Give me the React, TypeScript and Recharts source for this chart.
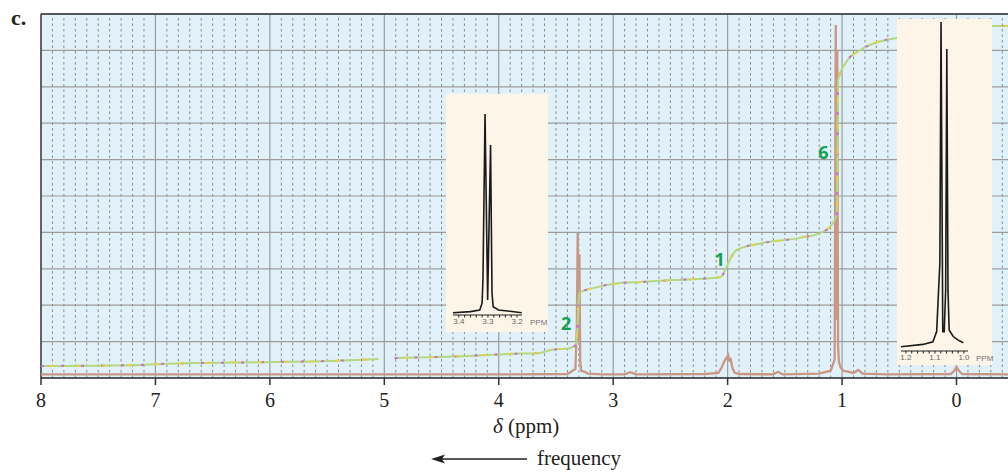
import React from 'react';
import { ComposedChart, LineChart, Line, XAxis, YAxis, CartesianGrid, ReferenceLine } from 'recharts';

// ---- main axis ----
const ppmTicks = [8, 7, 6, 5, 4, 3, 2, 1, 0];
const valueTicks = [0, 1, 2, 3, 4, 5, 6, 7, 8, 9, 10];

// ---- 1H spectrum (ppm, intensity) ----
const spectrumPpm = [8.0, 6.0, 4.0, 3.4, 3.33, 3.318, 3.31, 3.302, 3.295, 3.288, 3.28, 3.25, 3.22, 3.1, 2.9, 2.85, 2.8, 2.2, 2.08, 2.05, 2.03, 2.01, 1.995, 1.985, 1.975, 1.96, 1.94, 1.9, 1.6, 1.56, 1.52, 1.2, 1.1, 1.065, 1.055, 1.05, 1.042, 1.035, 1.028, 1.015, 0.99, 0.9, 0.86, 0.82, 0.6, 0.05, 0.02, 0.0, -0.02, -0.05, -0.45];
const spectrumVal = [0.1, 0.1, 0.1, 0.11, 0.25, 1.4, 3.98, 1.0, 3.4, 0.45, 0.2, 0.17, 0.12, 0.1, 0.1, 0.16, 0.1, 0.11, 0.14, 0.3, 0.45, 0.55, 0.63, 0.45, 0.55, 0.3, 0.15, 0.11, 0.1, 0.17, 0.1, 0.12, 0.2, 0.5, 9.7, 1.6, 9.0, 0.9, 0.45, 0.3, 0.2, 0.14, 0.22, 0.12, 0.1, 0.11, 0.2, 0.3, 0.2, 0.11, 0.1];

// ---- integral trace (ppm, value) ----
const integralPpm = [8.0, 7.13, 7.0, 5.99, 5.47, 5.3, 5.05, 5.0, 4.91, 4.51, 4.31, 3.93, 3.64, 3.55, 3.38, 3.33, 3.31, 3.3, 3.29, 3.175, 2.94, 2.76, 2.48, 2.065, 2.02, 1.99, 1.92, 1.74, 1.37, 1.19, 1.08, 1.045, 1.04, 1.035, 0.97, 0.84, 0.69, 0.52, 0.3, 0.05, -0.05, -0.32, -0.45];
const integralVal = [0.33, 0.36, 0.38, 0.44, 0.47, 0.49, 0.52, null, 0.55, 0.58, 0.6, 0.66, 0.69, 0.77, 0.82, 0.9, 1.5, 2.2, 2.35, 2.47, 2.61, 2.64, 2.69, 2.77, 2.97, 3.19, 3.52, 3.68, 3.85, 3.98, 4.26, 4.53, 6.5, 8.19, 8.65, 9.01, 9.23, 9.34, 9.42, 9.5, 9.65, 9.67, 9.67];

// ---- integration ratio labels ----
const ratioLabels = ['2', '1', '6'];
const ratioPpm = [3.41, 2.07, 1.164];
const ratioVal = [1.51, 3.27, 6.21];

// ---- inset 1 (3.3 ppm doublet) ----
const inset1Ticks = [3.4, 3.38, 3.36, 3.34, 3.32, 3.3, 3.28, 3.26, 3.24, 3.22, 3.2];
const inset1Labels = [3.4, 3.3, 3.2];
const inset1Ppm = [3.42, 3.36, 3.328, 3.32, 3.317, 3.31, 3.301, 3.291, 3.286, 3.282, 3.264, 3.184];
const inset1Val = [1.1, 1.6, 2.4, 5.7, 17.5, 95.3, 7.1, 80.6, 10.4, 3.9, 2.4, 1.1];

// ---- inset 2 (1.05 ppm doublet) ----
const inset2Ticks = [1.2, 1.18, 1.16, 1.14, 1.12, 1.1, 1.08, 1.06, 1.04, 1.02, 1.0];
const inset2Labels = [1.2, 1.1, 1.0];
const inset2Ppm = [1.217, 1.141, 1.107, 1.094, 1.089, 1.083, 1.079, 1.073, 1.068, 1.063, 1.059, 1.055, 1.051, 1.037, 1.02, 1.002];
const inset2Val = [1.3, 2.0, 2.8, 5.9, 15.5, 26.7, 100, 5.9, 5.9, 18.5, 91.8, 18.5, 6.4, 4.4, 3.3, 2.5];

const spectrumData = spectrumPpm.map((p, i) => ({ ppm: p, v: spectrumVal[i] }));
const integralData = integralPpm.map((p, i) => ({ ppm: p, v: integralVal[i] }));
const inset1Data = inset1Ppm.map((p, i) => ({ ppm: p, v: inset1Val[i] }));
const inset2Data = inset2Ppm.map((p, i) => ({ ppm: p, v: inset2Val[i] }));

const minorGrid: number[] = [];
for (let k = 0; k <= 84; k++) {
  const p = Math.round((8 - k * 0.1) * 10) / 10;
  if (Math.abs(p - Math.round(p)) > 0.01 && p > -0.45) minorGrid.push(p);
}

const SERIF = '"Liberation Serif", "Times New Roman", serif';
const SANS = '"Liberation Sans", Arial, sans-serif';

const RatioLabel = (props: any) => {
  const { viewBox, value } = props;
  return (
    <text x={viewBox.x} y={viewBox.y} textAnchor="middle" dominantBaseline="central"
      fontFamily='"Open Sans", sans-serif' fontWeight={700} fontSize={18} fill="#13a04e">{value}</text>
  );
};

function Inset({ left, top, width, height, data, ticks, labels, domain, plotLeft, plotRight, plotTop, plotBottom }: any) {
  return (
    <div style={{ position: 'absolute', left, top, width, height, background: '#fdf5e8' }}>
      <LineChart width={width} height={height} data={data}
        margin={{ top: plotTop, right: width - plotRight, left: plotLeft, bottom: height - plotBottom - 14 }}>
        <XAxis dataKey="ppm" type="number" domain={domain} reversed allowDataOverflow ticks={ticks} interval={0}
          height={14} stroke="#222" axisLine={{ stroke: '#222', strokeWidth: 1.2 }}
          tickLine={{ stroke: '#222' }} tickSize={2.5} tickMargin={1}
          tick={{ fontSize: 8, fill: '#666', fontFamily: SANS }}
          tickFormatter={(t: number) => (labels.some((l: number) => Math.abs(l - t) < 1e-6) ? t.toFixed(1) : '')} />
        <YAxis hide domain={[0, 100]} width={0} />
        <Line dataKey="v" type="linear" stroke="#1a1a1a" strokeWidth={1.6} dot={false} isAnimationActive={false} />
      </LineChart>
      <div style={{ position: 'absolute', left: plotRight + 8, top: plotBottom + 3, fontSize: 8, color: '#777', fontFamily: SANS }}>PPM</div>
    </div>
  );
}

export default function App() {
  return (
    <div style={{ position: 'absolute', left: 0, top: 0, width: 1008, height: 473, overflow: 'hidden', background: '#fff' }}>
      <ComposedChart width={1008} height={473} margin={{ top: 14, right: 0, left: 41, bottom: 55 }}>
        <CartesianGrid fill="#e0f1f9" stroke="#9c9c9c" strokeWidth={1.2} horizontalValues={valueTicks} verticalValues={ppmTicks} />
        {minorGrid.map((p) => (
          <ReferenceLine key={p} x={p} stroke="#8a8a8a" strokeWidth={1} strokeDasharray="2.5 3" />
        ))}
        <XAxis dataKey="ppm" type="number" domain={[-0.45, 8]} reversed allowDataOverflow ticks={ppmTicks} interval={0}
          height={40} axisLine={{ stroke: '#333', strokeWidth: 1.5 }} tickLine={{ stroke: '#333', strokeWidth: 1.5 }}
          tickSize={7} tickMargin={8} tick={{ fontSize: 20, fill: '#222', fontFamily: SERIF }} />
        <YAxis type="number" domain={[0, 10]} ticks={valueTicks} hide width={0} />
        <ReferenceLine y={10} stroke="#555" strokeWidth={2} />
        <ReferenceLine x={8} stroke="#444" strokeWidth={1.5} />
        <Line data={spectrumData} dataKey="v" type="linear" stroke="#c99784" strokeWidth={2.3} dot={false} isAnimationActive={false} />
        <Line data={integralData} dataKey="v" type="monotone" stroke="#b4d97c" strokeWidth={2} dot={false} isAnimationActive={false} />
        <Line data={integralData} dataKey="v" type="monotone" stroke="#c56fdc" strokeWidth={2} strokeDasharray="3 17" dot={false} isAnimationActive={false} />
        <Line data={integralData} dataKey="v" type="monotone" stroke="#e6d246" strokeWidth={2} strokeDasharray="0 9 4 13" dot={false} isAnimationActive={false} />
        {ratioLabels.map((t, i) => (
          <ReferenceLine key={t} ifOverflow="visible" segment={[{ x: ratioPpm[i], y: ratioVal[i] }, { x: ratioPpm[i], y: ratioVal[i] }]}
            stroke="none" label={<RatioLabel value={t} />} />
        ))}
      </ComposedChart>

      <Inset left={446} top={94} width={102} height={238} data={inset1Data} ticks={inset1Ticks} labels={inset1Labels}
        domain={[3.183, 3.42]} plotLeft={7} plotRight={76} plotTop={10} plotBottom={221} />
      <Inset left={897} top={19} width={95} height={346} data={inset2Data} ticks={inset2Ticks} labels={inset2Labels}
        domain={[0.986, 1.217]} plotLeft={4} plotRight={71} plotTop={3} plotBottom={332} />

      <div style={{ position: 'absolute', left: 11, top: 5, fontFamily: SERIF, fontWeight: 700, fontSize: 22, color: '#222' }}>c.</div>
      <div style={{ position: 'absolute', left: 493, top: 414, fontFamily: SERIF, fontSize: 21, color: '#222', whiteSpace: 'nowrap' }}>
        <i>δ</i> (ppm)
      </div>
      <svg style={{ position: 'absolute', left: 0, top: 0 }} width={1008} height={473} pointerEvents="none">
        <line x1={440} y1={459} x2={527} y2={459} stroke="#222" strokeWidth={1.3} />
        <path d="M431,459 L445,454.5 L442,459 L445,463.5 Z" fill="#222" />
      </svg>
      <div style={{ position: 'absolute', left: 537, top: 446, fontFamily: SERIF, fontSize: 21, color: '#222', whiteSpace: 'nowrap' }}>frequency</div>
    </div>
  );
}
